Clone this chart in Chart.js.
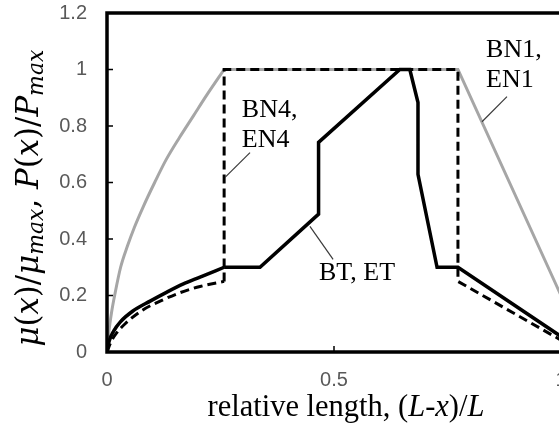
<!DOCTYPE html>
<html>
<head>
<meta charset="utf-8">
<script src="https://cdn.jsdelivr.net/npm/chart.js@4"></script>
<style>
  html, body { margin: 0; padding: 0; overflow: hidden; background: #fff; }
  #wrap { width: 570px; height: 426px; }
</style>
</head>
<body>
<div id="wrap"><canvas id="chart"></canvas></div>
<script>
// axis ticks
const xTickValues = [0, 0.5, 1];
const xTickLabels = ['0', '0.5', '1'];
const yTickValues = [0, 0.2, 0.4, 0.6, 0.8, 1, 1.2];
const yTickLabels = ['0', '0.2', '0.4', '0.6', '0.8', '1', '1.2'];

// BN1, EN1 (grey)
const bn1CurveX = [0, 0.004, 0.01, 0.018, 0.03, 0.045, 0.06, 0.08, 0.105, 0.13, 0.16, 0.19, 0.22, 0.258];
const bn1CurveY = [0, 0.07, 0.14, 0.21, 0.3, 0.375, 0.44, 0.515, 0.6, 0.68, 0.76, 0.835, 0.91, 1.0];
const bn1LineX = [0.258, 0.773, 1];
const bn1LineY = [1, 1, 0.2];

// BT, ET (solid black)
const btCurveX = [0, 0.005, 0.015, 0.029, 0.057, 0.095, 0.132, 0.167, 0.205, 0.258];
const btCurveY = [0, 0.04, 0.075, 0.106, 0.145, 0.18, 0.212, 0.24, 0.265, 0.3];
const btLineX = [0.258, 0.337, 0.466, 0.466, 0.645, 0.667, 0.685, 0.685, 0.727, 0.773, 1];
const btLineY = [0.3, 0.3, 0.488, 0.742, 1, 1, 0.883, 0.629, 0.3, 0.3, 0.055];

// BN4, EN4 (dashed)
const bn4CurveX = [0, 0.01, 0.02, 0.04, 0.076, 0.117, 0.161, 0.205, 0.258];
const bn4CurveY = [0, 0.04, 0.065, 0.1, 0.146, 0.18, 0.21, 0.232, 0.25];
const bn4LineX = [0.258, 0.258, 0.773, 0.773, 1];
const bn4LineY = [0.25, 1, 1, 0.25, 0.042];

// text labels on the plot (data coords)
const noteLabels = [
  { lines: ['BN4,', 'EN4'], x: 0.297, y: 0.833, from: [0.315, 0.706], to: [0.260, 0.618] },
  { lines: ['BN1,', 'EN1'], x: 0.835, y: 1.045, from: [0.881, 0.904], to: [0.826, 0.815] },
  { lines: ['BT, ET'], x: 0.467, y: 0.254, from: [0.498, 0.328], to: [0.447, 0.445] }
];

function toPoints(xs, ys) {
  return xs.map(function(x, i) { return { x: x, y: ys[i] }; });
}

function lineSet(xs, ys, color, width, dash, smooth, order) {
  return {
    data: toPoints(xs, ys),
    borderColor: color,
    borderWidth: width,
    borderDash: dash,
    pointRadius: 0,
    fill: false,
    tension: smooth ? 0.4 : 0,
    cubicInterpolationMode: smooth ? 'monotone' : 'default',
    order: order
  };
}

// draw text made of parts (some italic); font size is fitted to the target length
function drawParts(ctx, parts, cx, baseline, target, family) {
  function width(scale) {
    let w = 0;
    parts.forEach(function(p) {
      ctx.font = (p.it ? 'italic ' : '') + (p.size * scale) + 'px ' + family;
      w += ctx.measureText(p.t).width;
    });
    return w;
  }
  const scale = target / width(1);
  let x = cx - target / 2;
  parts.forEach(function(p) {
    ctx.font = (p.it ? 'italic ' : '') + (p.size * scale) + 'px ' + family;
    ctx.fillText(p.t, x, baseline + (p.dy || 0) * scale);
    x += ctx.measureText(p.t).width;
  });
}

const framePlugin = {
  id: 'frame',
  afterDraw: function(chart) {
    const ctx = chart.ctx;
    const a = chart.chartArea;
    const xs = chart.scales.x, ys = chart.scales.y;
    ctx.save();

    // plot box
    ctx.strokeStyle = '#000';
    ctx.lineWidth = 3.5;
    ctx.strokeRect(a.left, a.top, a.right - a.left, a.bottom - a.top);

    // inner tick marks
    ctx.lineWidth = 1.5;
    ctx.beginPath();
    yTickValues.forEach(function(v) {
      const py = ys.getPixelForValue(v);
      ctx.moveTo(a.left, py); ctx.lineTo(a.left + 6, py);
    });
    xTickValues.forEach(function(v) {
      const px = xs.getPixelForValue(v);
      ctx.moveTo(px, a.bottom); ctx.lineTo(px, a.bottom - 6);
    });
    ctx.stroke();

    // notes with leader lines
    ctx.fillStyle = '#000';
    ctx.textBaseline = 'alphabetic';
    ctx.textAlign = 'left';
    ctx.font = '26px "Liberation Serif"';
    noteLabels.forEach(function(n) {
      const lx = xs.getPixelForValue(n.x);
      const ly = ys.getPixelForValue(n.y);
      n.lines.forEach(function(t, i) { ctx.fillText(t, lx, ly + i * 30); });
      ctx.strokeStyle = '#3a3a3a';
      ctx.lineWidth = 1.2;
      ctx.beginPath();
      ctx.moveTo(xs.getPixelForValue(n.from[0]), ys.getPixelForValue(n.from[1]));
      ctx.lineTo(xs.getPixelForValue(n.to[0]), ys.getPixelForValue(n.to[1]));
      ctx.stroke();
    });

    // x axis title
    drawParts(ctx, [
      { t: 'relative length, (', size: 28 },
      { t: 'L', size: 28, it: true },
      { t: '-', size: 28 },
      { t: 'x', size: 28, it: true },
      { t: ')/', size: 28 },
      { t: 'L', size: 28, it: true }
    ], 346, 416, 277, '"Liberation Serif"');

    // y axis title
    ctx.translate(38, 198);
    ctx.rotate(-Math.PI / 2);
    drawParts(ctx, [
      { t: 'μ', size: 28, it: true }, { t: '(', size: 28 }, { t: 'x', size: 28, it: true }, { t: ')/', size: 28 },
      { t: 'μ', size: 28, it: true }, { t: 'max', size: 20, it: true, dy: 5 },
      { t: ', ', size: 28 },
      { t: 'P', size: 28, it: true }, { t: '(', size: 28 }, { t: 'x', size: 28, it: true }, { t: ')/', size: 28 },
      { t: 'P', size: 28, it: true }, { t: 'max', size: 20, it: true, dy: 5 }
    ], 0, 0, 297, '"DejaVu Serif"');

    ctx.restore();
  }
};

const ctx = document.getElementById('chart').getContext('2d');
new Chart(ctx, {
  type: 'line',
  data: {
    datasets: [
      lineSet(bn1CurveX, bn1CurveY, '#a6a6a6', 3, [], true, 3),
      lineSet(bn1LineX, bn1LineY, '#a6a6a6', 3, [], false, 3),
      lineSet(btCurveX, btCurveY, '#000', 3.5, [], true, 2),
      lineSet(btLineX, btLineY, '#000', 3.5, [], false, 2),
      lineSet(bn4CurveX, bn4CurveY, '#000', 3, [9, 5], true, 1),
      lineSet(bn4LineX, bn4LineY, '#000', 3, [9, 5], false, 1)
    ]
  },
  options: {
    responsive: true,
    maintainAspectRatio: false,
    animation: false,
    layout: { padding: { left: 0, top: 13, right: 9, bottom: 0 } },
    plugins: { legend: { display: false }, tooltip: { enabled: false } },
    scales: {
      x: {
        type: 'linear',
        min: 0, max: 1,
        grid: { display: false, drawTicks: false },
        border: { display: false },
        afterBuildTicks: function(s) { s.ticks = xTickValues.map(function(v) { return { value: v }; }); },
        afterFit: function(s) { s.height = 74; s.paddingLeft = 0; s.paddingRight = 0; },
        ticks: {
          padding: 16,
          color: '#595959',
          font: { family: '"Liberation Sans"', size: 20 },
          maxRotation: 0,
          callback: function(v) { return xTickLabels[xTickValues.indexOf(v)]; }
        }
      },
      y: {
        min: 0, max: 1.2,
        grid: { display: false, drawTicks: false },
        border: { display: false },
        afterBuildTicks: function(s) { s.ticks = yTickValues.map(function(v) { return { value: v }; }); },
        afterFit: function(s) { s.width = 107; s.paddingTop = 0; s.paddingBottom = 0; },
        ticks: {
          padding: 20,
          color: '#595959',
          font: { family: '"Liberation Sans"', size: 20 },
          callback: function(v) {
            const i = yTickValues.findIndex(function(t) { return Math.abs(t - v) < 1e-9; });
            return yTickLabels[i];
          }
        }
      }
    }
  },
  plugins: [framePlugin]
});
</script>
</body>
</html>
